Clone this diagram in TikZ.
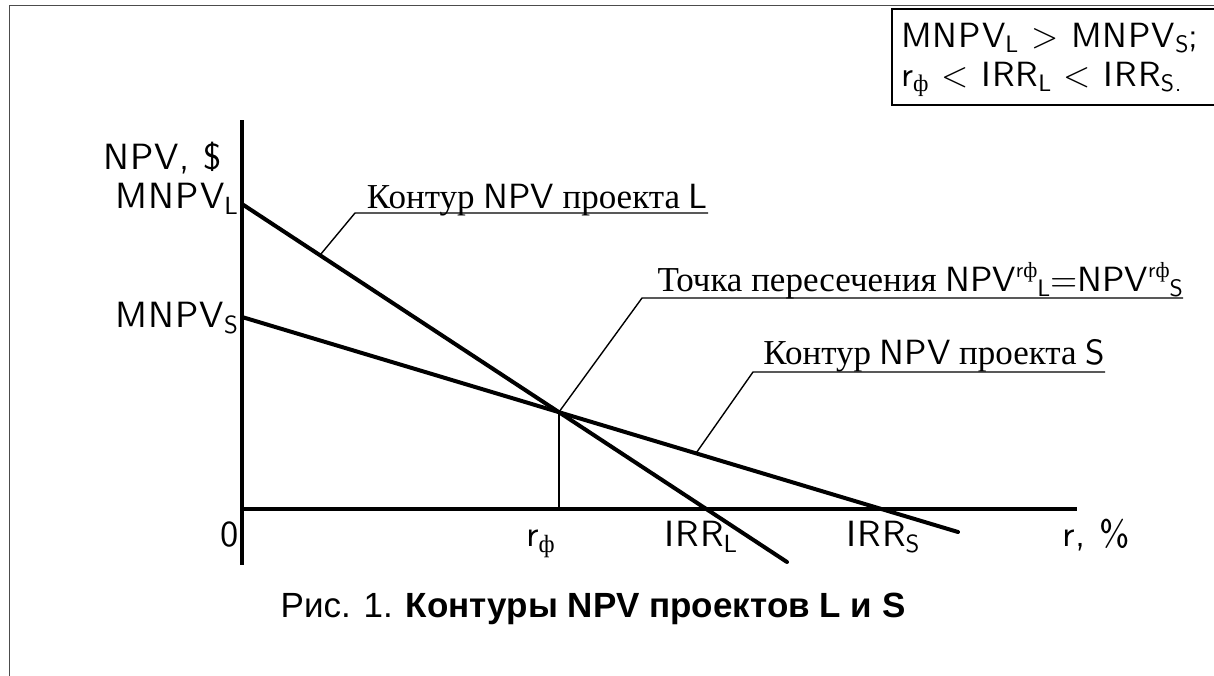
\documentclass[tikz,border=0pt]{standalone}
\usepackage{fontspec}
\usepackage{graphicx}
\setmainfont{Liberation Serif}
\newfontfamily\capfont{Liberation Sans}
\newfontfamily\lsans{lmsans10-regular}[Extension=.otf,LetterSpace=3]
\newfontfamily\plainsans{lmsans10-regular}[Extension=.otf]
\newcommand\cyrphi{{\rmfamily ф}}
\newcommand\sbs[1]{\raisebox{-0.17em}{\scalebox{0.68}{#1}}}
\newcommand\sps[1]{\raisebox{0.38em}{\scalebox{0.62}{#1}}}
\usetikzlibrary{intersections,calc}
\begin{document}
\begin{tikzpicture}[x=1pt,y=-1pt,
  axis/.style={line width=3.5pt},
  contour/.style={line width=4pt, line cap=round},
  leader/.style={line width=1.4pt},
  ax/.style={inner sep=0pt, font=\fontsize{36.5}{42}\selectfont\lsans},
  boxtext/.style={inner sep=0pt, font=\fontsize{35}{40}\selectfont\lsans},
  lead/.style={inner sep=0pt, font=\fontsize{35}{40}\selectfont},
]
\useasboundingbox (0,0) rectangle (1214,675);
% outer frame (partly visible)
\draw[line width=1pt, black!70] (9,676) -- (9,5) -- (1215,5);
% condition box
\draw[line width=1.2pt] (1216,9) -- (892,9) -- (892,105) -- (1216,105);
\node[boxtext, anchor=base west] (b1) at (901,47) {MNPV\sbs{L} > MNPV\sbs{S};};
\node[boxtext, anchor=base west] (b2) at (901,86) {r\sbs{\cyrphi} < IRR\sbs{L} < IRR\sbs{S.}};
% axes
\coordinate (O) at (242,509);
\coordinate (Ytop) at (242,120);
\coordinate (Ybot) at (242,565);
\coordinate (Xend) at (1077,509);
\draw[axis] (Ytop) -- (Ybot);
\draw[axis] (O) -- (Xend);
% contours
\coordinate (L0) at (242,204);
\coordinate (L1) at (787,562);
\coordinate (S0) at (242,317);
\coordinate (S1) at (958,532);
\draw[contour, name path=lineL] (L0) -- (L1);
\draw[contour, name path=lineS] (S0) -- (S1);
\path[name intersections={of=lineL and lineS, by=X}];
\draw[leader] (X) -- (X |- O);
% axis labels
\node[ax, anchor=base west] (npv) at (103,169) {NPV, \$};
\node[ax, anchor=base east] (mL) at (238,208) {MNPV\sbs{L}};
\node[ax, anchor=base east] (mS) at (238,327) {MNPV\sbs{S}};
\node[ax, anchor=base] (zero) at (230,546) {0};
\node[ax, anchor=base west] (rf) at (526,546) {r\sbs{\cyrphi}};
\node[ax, anchor=base west] (irrL) at (664,546) {IRR\sbs{L}};
\node[ax, anchor=base west] (irrS) at (846,546) {IRR\sbs{S}};
\node[ax, anchor=base west] (rp) at (1062,546) {r, \%};
% leaders
\coordinate (pL) at ($(L0)!0.143!(L1)$);
\coordinate (kL) at (355,213);
\node[lead, anchor=base east] (tL) at (708,208) {Контур {\plainsans NPV} проекта {\plainsans L}};
\draw[leader] (pL) -- (kL) -- (kL -| tL.east);
\coordinate (kX) at (642,298);
\node[lead, anchor=base east] (tX) at (1183,291) {Точка пересечения {\plainsans NPV\sps{r\cyrphi}\sbs{L}=NPV\sps{r\cyrphi}\sbs{S}}};
\draw[leader] (X) -- (kX) -- (kX -| tX.east);
\coordinate (pS) at ($(S0)!0.634!(S1)$);
\coordinate (kS) at (753,372);
\node[lead, anchor=base east] (tS) at (1105,364) {Контур {\plainsans NPV} проекта {\plainsans S}};
\draw[leader] (pS) -- (kS) -- (kS -| tS.east);
% caption
\node[inner sep=0pt, anchor=base, font=\fontsize{35}{40}\selectfont\capfont] (cap) at (593,617) {Рис. 1. \textbf{Контуры NPV проектов L и S}};
\end{tikzpicture}
\end{document}
